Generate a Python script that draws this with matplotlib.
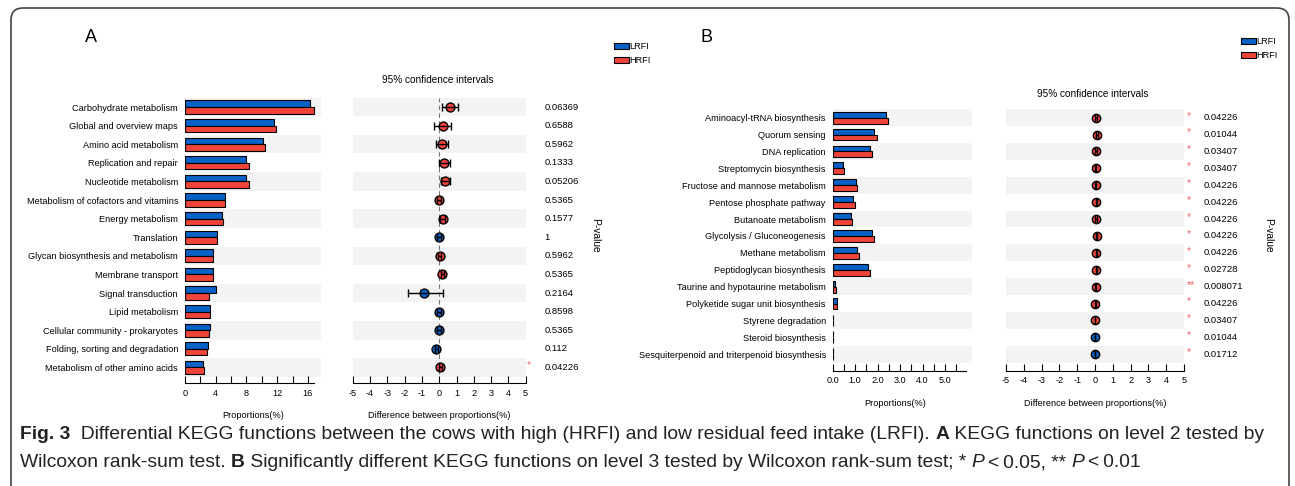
"""
KEGG functions, LRFI vs HRFI: extended error bar plots (panels A and B)
"""
import matplotlib
matplotlib.use("Agg")
from matplotlib import pyplot as plt
from matplotlib.patches import Patch, FancyBboxPatch

# ---- data -------------------------------------------------------------
cats_a = ["Carbohydrate metabolism", "Global and overview maps", "Amino acid metabolism",
          "Replication and repair", "Nucleotide metabolism",
          "Metabolism of cofactors and vitamins", "Energy metabolism", "Translation",
          "Glycan biosynthesis and metabolism", "Membrane transport", "Signal transduction",
          "Lipid metabolism", "Cellular community - prokaryotes",
          "Folding, sorting and degradation", "Metabolism of other amino acids"]
lrfi_a = [16.3, 11.6, 10.2, 7.9, 7.9, 5.2, 4.8, 4.2, 3.7, 3.6, 4.0, 3.2, 3.2, 3.0, 2.4]
hrfi_a = [16.8, 11.8, 10.4, 8.3, 8.3, 5.2, 5.0, 4.2, 3.7, 3.7, 3.1, 3.2, 3.1, 2.8, 2.5]
diff_a = [0.6, 0.2, 0.15, 0.3, 0.35, 0.01, 0.2, -0.02, 0.03, 0.18, -0.85, -0.01, -0.02, -0.17, 0.07]
low_a = [0.15, -0.3, -0.18, 0.0, 0.1, -0.1, 0.05, -0.1, -0.07, 0.08, -1.8, -0.1, -0.12, -0.25, 0.0]
high_a = [1.1, 0.7, 0.48, 0.6, 0.6, 0.1, 0.35, 0.08, 0.12, 0.28, 0.2, 0.09, 0.1, -0.08, 0.14]
pval_a = ["0.06369", "0.6588", "0.5962", "0.1333", "0.05206", "0.5365", "0.1577", "1",
          "0.5962", "0.5365", "0.2164", "0.8598", "0.5365", "0.112", "0.04226"]
star_a = [""] * 14 + ["*"]

cats_b = ["Aminoacyl-tRNA biosynthesis", "Quorum sensing", "DNA replication",
          "Streptomycin biosynthesis", "Fructose and mannose metabolism",
          "Pentose phosphate pathway", "Butanoate metabolism", "Glycolysis / Gluconeogenesis",
          "Methane metabolism", "Peptidoglycan biosynthesis",
          "Taurine and hypotaurine metabolism", "Polyketide sugar unit biosynthesis",
          "Styrene degradation", "Steroid biosynthesis",
          "Sesquiterpenoid and triterpenoid biosynthesis"]
lrfi_b = [2.37, 1.82, 1.66, 0.44, 1.05, 0.92, 0.83, 1.76, 1.07, 1.56, 0.12, 0.20, 0.02, 0.03, 0.03]
hrfi_b = [2.48, 1.97, 1.76, 0.49, 1.10, 0.98, 0.88, 1.85, 1.17, 1.65, 0.15, 0.20, 0.03, 0.02, 0.02]
diff_b = [0.06, 0.11, 0.08, 0.04, 0.04, 0.08, 0.06, 0.09, 0.08, 0.08, 0.03, 0.02, 0.01, -0.01, -0.01]
low_b = [0.0, 0.05, 0.02, 0.01, 0.01, 0.03, 0.01, 0.04, 0.03, 0.03, 0.01, 0.0, 0.0, -0.02, -0.02]
high_b = [0.12, 0.17, 0.14, 0.07, 0.07, 0.13, 0.11, 0.14, 0.13, 0.13, 0.05, 0.04, 0.02, 0.0, 0.0]
pval_b = ["0.04226", "0.01044", "0.03407", "0.03407", "0.04226", "0.04226", "0.04226",
          "0.04226", "0.04226", "0.02728", "0.008071", "0.04226", "0.03407", "0.01044", "0.01712"]
star_b = ["*"] * 10 + ["**"] + ["*"] * 4

# ---- style ------------------------------------------------------------
W, H = 1295, 486
BLUE = "#0762C8"
RED = "#F0433A"
BAND = "#F3F3F3"
STAR = "#F06060"
FONT = "Liberation Sans"
FS = 6.6
CAP_FONT = "Liberation Sans"

plt.rcParams["font.family"] = FONT
plt.rcParams["axes.linewidth"] = 0.8

fig = plt.figure(figsize=(W / 100, H / 100), dpi=100)


def px_axes(x0, y0, x1, y1):
    """ axes placed by pixel box (origin top-left) """
    return fig.add_axes([x0 / W, 1 - y1 / H, (x1 - x0) / W, (y1 - y0) / H])


def ftext(x, y, s, **kw):
    """ figure text at pixel position """
    return fig.text(x / W, 1 - y / H, s, **kw)


def style_axis(ax, ylim_bottom, n):
    ax.set_ylim(ylim_bottom, -0.5)
    for side in ("left", "right", "top"):
        ax.spines[side].set_visible(False)
    ax.tick_params(axis="y", length=0)
    ax.tick_params(axis="x", which="both", direction="in", labelsize=FS, pad=4)
    ax.tick_params(axis="x", which="major", length=5, width=0.8)
    ax.tick_params(axis="x", which="minor", length=5, width=0.8)
    for i in range(0, n, 2):
        ax.axhspan(i - 0.5, i + 0.5, color=BAND, lw=0, zorder=0)
    ax.patch.set_alpha(0)


def bar_panel(ax, cats, lrfi, hrfi, xmax, spine_end, major, minor, fmt, ylim_bottom):
    n = len(cats)
    ys = list(range(n))
    ax.barh([y - 0.175 for y in ys], lrfi, height=0.35, color=BLUE, edgecolor="black",
            linewidth=0.8, zorder=2)
    ax.barh([y + 0.175 for y in ys], hrfi, height=0.35, color=RED, edgecolor="black",
            linewidth=0.8, zorder=2)
    ax.set_xlim(0, xmax)
    style_axis(ax, ylim_bottom, n)
    ax.spines["bottom"].set_bounds(0, spine_end)
    ax.set_xticks(major)
    ax.set_xticklabels([fmt.format(v) for v in major])
    ax.set_xticks(minor, minor=True)
    ax.set_yticks(ys)
    ax.set_yticklabels(cats, fontsize=FS)
    ax.tick_params(axis="y", pad=5)
    ax.set_xlabel("Proportions(%)", fontsize=FS, labelpad=10)


def ci_panel(ax, diff, low, high, pvals, stars, ylim_bottom, dashed, msize, pv_x, st_x):
    n = len(diff)
    ax.set_xlim(-5, 5)
    style_axis(ax, ylim_bottom, n)
    if dashed:
        ax.axvline(0, ymin=0.03, ymax=1, color="#777777", lw=0.8, ls=(0, (4, 3)), zorder=1)
    for i in range(n):
        col = RED if diff[i] > 0 else BLUE
        ax.plot(diff[i], i, "o", ms=msize, mfc=col, mec="black", mew=1.0, zorder=3)
        ax.errorbar(diff[i], i, xerr=[[diff[i] - low[i]], [high[i] - diff[i]]], fmt="none",
                    ecolor="black", elinewidth=1.0, capsize=2.6, capthick=1.0, zorder=4)
        ax.text(pv_x, i, pvals[i], transform=ax.get_yaxis_transform(), fontsize=FS + 0.2,
                va="center", ha="left")
        if stars[i]:
            ax.text(st_x, i - 0.12, stars[i], transform=ax.get_yaxis_transform(),
                    fontsize=FS + 1, va="center", ha="left", color=STAR)
    ax.set_xticks(range(-5, 6))
    ax.set_xticklabels([str(v) for v in range(-5, 6)])
    ax.set_yticks([])
    ax.set_xlabel("Difference between proportions(%)", fontsize=FS, labelpad=10)


# ---- panel A ------------------------------------------------------------
a_top, a_bot, a_step = 97.7, 383, 18.6
a_ylim = 14.5 + (a_bot - (a_top + 15 * a_step)) / a_step
ax1 = px_axes(185, a_top, 321, a_bot)
bar_panel(ax1, cats_a, lrfi_a, hrfi_a, 136 / 7.68, 16.8, [0, 4, 8, 12, 16],
          [2, 6, 10, 14], "{:g}", a_ylim)
ax2 = px_axes(352.7, a_top, 525.7, a_bot)
ci_panel(ax2, diff_a, low_a, high_a, pval_a, star_a, a_ylim, True, 6.4, 1.11, 1.005)

ftext(438, 80, "95% confidence intervals", fontsize=7.2, ha="center", va="center")
ftext(595, 235, "P-value", fontsize=7.4, ha="center", va="center", rotation=270)
ftext(91, 37, "A", fontsize=13, ha="center", va="center")

# ---- panel B ------------------------------------------------------------
b_top, b_bot, b_step = 109.2, 370.7, 16.9
b_ylim = 14.5 + (b_bot - (b_top + 15 * b_step)) / b_step
ax3 = px_axes(832.7, b_top, 972, b_bot)
bar_panel(ax3, cats_b, lrfi_b, hrfi_b, 139.3 / 22.46, 5.93, [0, 1, 2, 3, 4, 5],
          [0.5, 1.5, 2.5, 3.5, 4.5, 5.5], "{:.1f}", b_ylim)
ax3.xaxis.label.set_position((0.45, 0))
ax4 = px_axes(1006, b_top, 1184, b_bot)
ci_panel(ax4, diff_b, low_b, high_b, pval_b, star_b, b_ylim, False, 6.0, 1.11, 1.015)

ftext(1093, 94, "95% confidence intervals", fontsize=7.2, ha="center", va="center")
ftext(1268, 235, "P-value", fontsize=7.4, ha="center", va="center", rotation=270)
ftext(706, 37, "B", fontsize=13, ha="center", va="center")

# ---- legends ------------------------------------------------------------
handles = [Patch(facecolor=BLUE, edgecolor="black", lw=0.8),
           Patch(facecolor=RED, edgecolor="black", lw=0.8)]
for lx, ly in ((614, 42), (1241, 37)):
    fig.legend(handles, ["LRFI", "HRFI"], loc="upper left",
               bbox_to_anchor=(lx / W, 1 - ly / H), bbox_transform=fig.transFigure,
               frameon=False, fontsize=FS, handlelength=1.6, handleheight=0.6,
               handletextpad=0.05, labelspacing=0.55, borderpad=0, borderaxespad=0)

# ---- frame ------------------------------------------------------------
bg = fig.add_axes([0, 0, 1, 1], zorder=-5)
bg.set_xlim(0, W)
bg.set_ylim(H, 0)
bg.axis("off")
bg.add_patch(FancyBboxPatch((11, 8), 1278, 500, boxstyle="round,pad=0,rounding_size=12",
                            fc="none", ec="#444444", lw=1.2))

# ---- caption ------------------------------------------------------------
renderer = fig.canvas.get_renderer()


def rich_line(x, y, runs, size):
    """ draw a line of text made of runs with different weights """
    for s, kw in runs:
        t = ftext(x, y, s, fontsize=size, va="baseline", ha="left", family=CAP_FONT,
                  color="#222222", **kw)
        x += t.get_window_extent(renderer=renderer).width


CAP = 13.85
rich_line(20, 439, [("Fig. 3", {"weight": "bold"}),
                    ("  Differential KEGG functions between the cows with high (HRFI) and low "
                     "residual feed intake (LRFI). ", {}),
                    ("A", {"weight": "bold"}),
                    (" KEGG functions on level 2 tested by", {})], CAP)
rich_line(20, 467, [("Wilcoxon rank-sum test. ", {}),
                    ("B", {"weight": "bold"}),
                    (" Significantly different KEGG functions on level 3 tested by Wilcoxon "
                     "rank-sum test; * ", {}),
                    ("P", {"style": "italic"}),
                    ("\u2009<\u20090.05, ** ", {}),
                    ("P", {"style": "italic"}),
                    ("\u2009<\u20090.01", {})], CAP)

fig.savefig("out.png", dpi=100)
